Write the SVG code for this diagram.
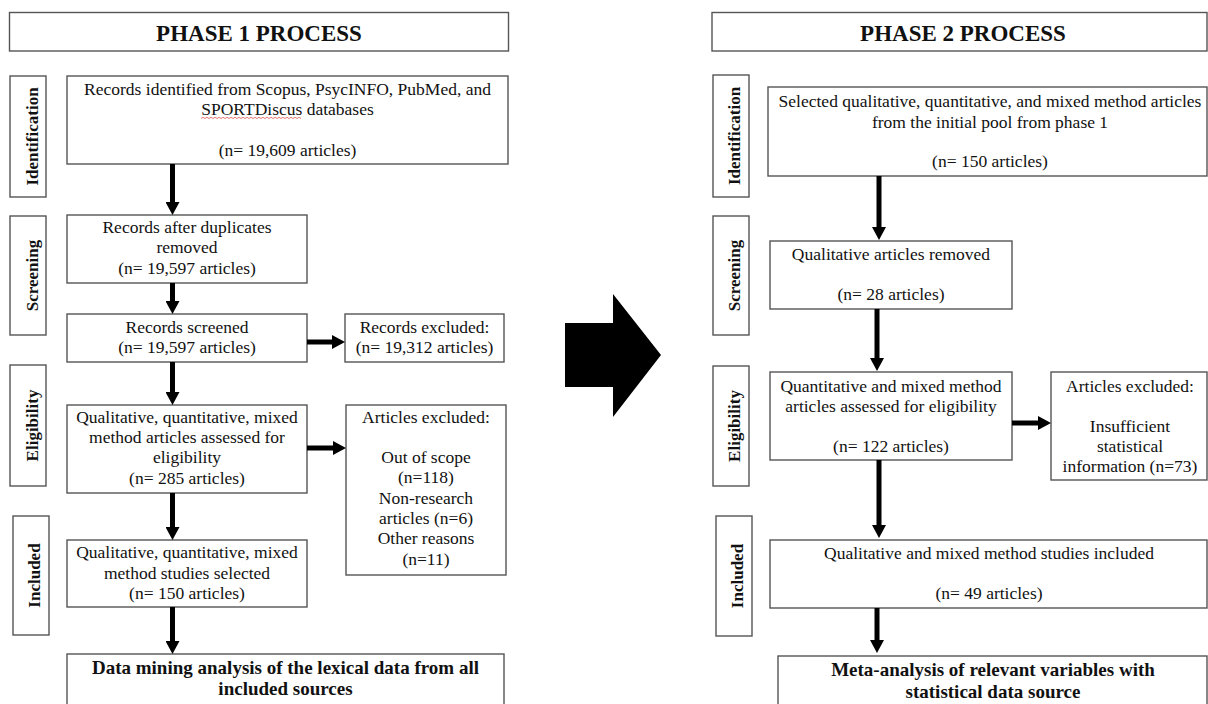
<svg xmlns="http://www.w3.org/2000/svg" width="1208" height="704" viewBox="0 0 1208 704">
  <defs>
    <style>
      .box { fill: #ffffff; stroke: #555555; stroke-width: 1.4; }
      .t { font-family: "Liberation Serif", "Times New Roman", serif; font-size: 17.5px; fill: #111111; text-anchor: middle; }
      .b { font-family: "Liberation Serif", "Times New Roman", serif; font-size: 19px; font-weight: bold; fill: #111111; text-anchor: middle; }
      .h { font-family: "Liberation Serif", "Times New Roman", serif; font-size: 23px; font-weight: bold; fill: #111111; text-anchor: middle; }
      .lbl { font-family: "Liberation Serif", "Times New Roman", serif; font-size: 17px; font-weight: bold; fill: #111111; text-anchor: middle; }
      .arrow { stroke: #000000; stroke-width: 5; fill: none; marker-end: url(#head); }
    </style>
    <marker id="head" markerUnits="userSpaceOnUse" markerWidth="13" markerHeight="14" refX="0" refY="7" orient="auto">
      <path d="M0,0 L13,7 L0,14 Z" fill="#000000"/>
    </marker>
  </defs>
  <rect width="1208" height="704" fill="#ffffff"/>

  <!-- ===== Phase 1 ===== -->
  <g id="phase1-header">
    <rect class="box" x="9.5" y="12.5" width="499" height="38.5"/>
    <text class="h" x="259" y="40.5">PHASE 1 PROCESS</text>
  </g>

  <g id="p1-stage-identification">
    <rect class="box" x="10" y="76" width="36" height="121"/>
    <text class="lbl" transform="translate(38,136.5) rotate(-90)">Identification</text>
  </g>
  <g id="p1-stage-screening">
    <rect class="box" x="10" y="216" width="36" height="119"/>
    <text class="lbl" transform="translate(38,275.5) rotate(-90)">Screening</text>
  </g>
  <g id="p1-stage-eligibility">
    <rect class="box" x="10" y="365" width="36" height="121"/>
    <text class="lbl" transform="translate(38,425.5) rotate(-90)">Eligibility</text>
  </g>
  <g id="p1-stage-included">
    <rect class="box" x="13" y="516" width="36" height="119"/>
    <text class="lbl" transform="translate(40,575.5) rotate(-90)">Included</text>
  </g>

  <g id="p1-records-identified">
    <rect class="box" x="67" y="76" width="441" height="88"/>
    <text class="t" x="287.5" y="95">Records identified from Scopus, PsycINFO, PubMed, and</text>
    <text class="t" x="287.5" y="115">SPORTDiscus databases</text>
    <!-- spell-check squiggle under the database name -->
    <path d="M201,118.5 l2,-1.2 l2,1.2 l2,-1.2 l2,1.2 l2,-1.2 l2,1.2 l2,-1.2 l2,1.2 l2,-1.2 l2,1.2 l2,-1.2 l2,1.2 l2,-1.2 l2,1.2 l2,-1.2 l2,1.2 l2,-1.2 l2,1.2 l2,-1.2 l2,1.2 l2,-1.2 l2,1.2 l2,-1.2 l2,1.2 l2,-1.2 l2,1.2 l2,-1.2 l2,1.2 l2,-1.2 l2,1.2 l2,-1.2 l2,1.2 l2,-1.2 l2,1.2 l2,-1.2 l2,1.2 l2,-1.2 l2,1.2 l2,-1.2 l2,1.2 l2,-1.2 l2,1.2 l2,-1.2 l2,1.2 l2,-1.2 l2,1.2 l2,-1.2 l2,1.2 l2,-1.2 l2,1.2" fill="none" stroke="#e05555" stroke-width="0.8"/>
    <text class="t" x="287.5" y="156">(n= 19,609 articles)</text>
  </g>

  <g id="p1-duplicates-removed">
    <rect class="box" x="67" y="215" width="240" height="68"/>
    <text class="t" x="187" y="233">Records after duplicates</text>
    <text class="t" x="187" y="253">removed</text>
    <text class="t" x="187" y="274">(n= 19,597 articles)</text>
  </g>

  <g id="p1-records-screened">
    <rect class="box" x="67" y="314" width="240" height="48"/>
    <text class="t" x="187" y="333">Records screened</text>
    <text class="t" x="187" y="353">(n= 19,597 articles)</text>
  </g>

  <g id="p1-records-excluded">
    <rect class="box" x="345" y="314" width="159" height="48"/>
    <text class="t" x="424.5" y="333">Records excluded:</text>
    <text class="t" x="424.5" y="353">(n= 19,312 articles)</text>
  </g>

  <g id="p1-eligibility">
    <rect class="box" x="67" y="405" width="240" height="88"/>
    <text class="t" x="187" y="423">Qualitative, quantitative, mixed</text>
    <text class="t" x="187" y="443">method articles assessed for</text>
    <text class="t" x="187" y="463">eligibility</text>
    <text class="t" x="187" y="484">(n= 285 articles)</text>
  </g>

  <g id="p1-articles-excluded">
    <rect class="box" x="346" y="405" width="160" height="170"/>
    <text class="t" x="426" y="423">Articles excluded:</text>
    <text class="t" x="426" y="463">Out of scope</text>
    <text class="t" x="426" y="483">(n=118)</text>
    <text class="t" x="426" y="504">Non-research</text>
    <text class="t" x="426" y="524">articles (n=6)</text>
    <text class="t" x="426" y="544">Other reasons</text>
    <text class="t" x="426" y="565">(n=11)</text>
  </g>

  <g id="p1-included">
    <rect class="box" x="67" y="540" width="240" height="67"/>
    <text class="t" x="187" y="558">Qualitative, quantitative, mixed</text>
    <text class="t" x="187" y="579">method studies selected</text>
    <text class="t" x="187" y="599">(n= 150 articles)</text>
  </g>

  <g id="p1-data-mining">
    <rect class="box" x="67" y="654" width="437" height="60"/>
    <text class="b" x="285.5" y="674">Data mining analysis of the lexical data from all</text>
    <text class="b" x="285.5" y="695">included sources</text>
  </g>

  <!-- ===== Transition between phases ===== -->
  <g id="phase-transition">
    <polygon points="565,323 613,323 613,294 661,355 613,417 613,387 565,387" fill="#000000"/>
  </g>

  <!-- ===== Phase 2 ===== -->
  <g id="phase2-header">
    <rect class="box" x="712" y="12.5" width="495" height="38.5"/>
    <text class="h" x="963" y="40.5">PHASE 2 PROCESS</text>
  </g>

  <g id="p2-stage-identification">
    <rect class="box" x="713" y="75" width="36" height="122"/>
    <text class="lbl" transform="translate(740,136) rotate(-90)">Identification</text>
  </g>
  <g id="p2-stage-screening">
    <rect class="box" x="713" y="216" width="36" height="119"/>
    <text class="lbl" transform="translate(740,275.5) rotate(-90)">Screening</text>
  </g>
  <g id="p2-stage-eligibility">
    <rect class="box" x="713" y="366" width="36" height="120"/>
    <text class="lbl" transform="translate(740,426) rotate(-90)">Eligibility</text>
  </g>
  <g id="p2-stage-included">
    <rect class="box" x="716" y="516" width="36" height="120"/>
    <text class="lbl" transform="translate(743,576) rotate(-90)">Included</text>
  </g>

  <g id="p2-selected-articles">
    <rect class="box" x="768" y="87" width="439" height="89"/>
    <text class="t" x="990" y="107">Selected qualitative, quantitative, and mixed method articles</text>
    <text class="t" x="990" y="128">from the initial pool from phase 1</text>
    <text class="t" x="990" y="167">(n= 150 articles)</text>
  </g>

  <g id="p2-qualitative-removed">
    <rect class="box" x="770" y="241" width="242" height="68"/>
    <text class="t" x="891" y="260">Qualitative articles removed</text>
    <text class="t" x="891" y="300">(n= 28 articles)</text>
  </g>

  <g id="p2-eligibility">
    <rect class="box" x="770" y="372" width="242" height="88"/>
    <text class="t" x="891" y="392">Quantitative and mixed method</text>
    <text class="t" x="891" y="412">articles assessed for eligibility</text>
    <text class="t" x="891" y="452">(n= 122 articles)</text>
  </g>

  <g id="p2-articles-excluded">
    <rect class="box" x="1051" y="372" width="156" height="108"/>
    <text class="t" x="1130" y="392">Articles excluded:</text>
    <text class="t" x="1130" y="432">Insufficient</text>
    <text class="t" x="1130" y="452">statistical</text>
    <text class="t" x="1130" y="472">information (n=73)</text>
  </g>

  <g id="p2-included">
    <rect class="box" x="770" y="540" width="437" height="68"/>
    <text class="t" x="989" y="559">Qualitative and mixed method studies included</text>
    <text class="t" x="989" y="599">(n= 49 articles)</text>
  </g>

  <g id="p2-meta-analysis">
    <rect class="box" x="778" y="656" width="429" height="60"/>
    <text class="b" x="993" y="676">Meta-analysis of relevant variables with</text>
    <text class="b" x="993" y="698">statistical data source</text>
  </g>

  <!-- ===== Connectors ===== -->
  <g id="connectors">
    <line class="arrow" x1="172.5" y1="164" x2="172.5" y2="202"/>
    <line class="arrow" x1="172.5" y1="283" x2="172.5" y2="301"/>
    <line class="arrow" x1="172.5" y1="362" x2="172.5" y2="392"/>
    <line class="arrow" x1="172.5" y1="493" x2="172.5" y2="527"/>
    <line class="arrow" x1="172.5" y1="607" x2="172.5" y2="641"/>
    <line class="arrow" x1="307" y1="342" x2="332" y2="342"/>
    <line class="arrow" x1="307" y1="448" x2="333" y2="448"/>

    <line class="arrow" x1="879" y1="176" x2="879" y2="227"/>
    <line class="arrow" x1="877" y1="309" x2="877" y2="358"/>
    <line class="arrow" x1="879" y1="460" x2="879" y2="525"/>
    <line class="arrow" x1="877" y1="608" x2="877" y2="640"/>
    <line class="arrow" x1="1012" y1="423" x2="1038" y2="423"/>
  </g>
</svg>
